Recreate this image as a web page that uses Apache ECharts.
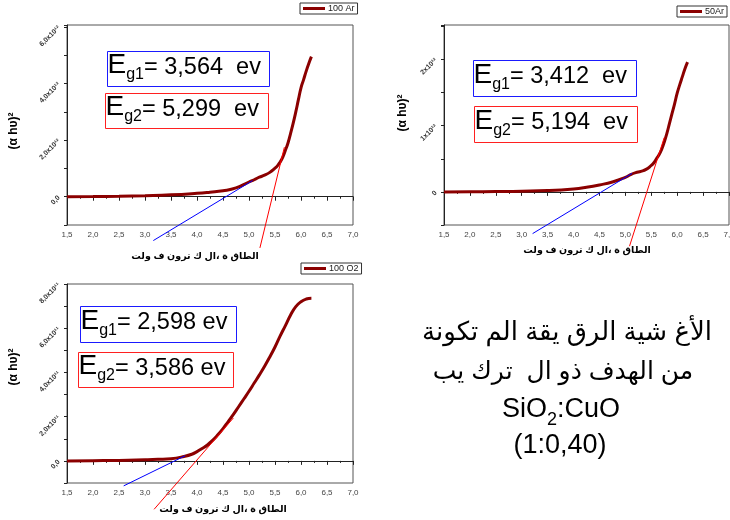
<!DOCTYPE html>
<html>
<head>
<meta charset="utf-8">
<script src="https://cdn.jsdelivr.net/npm/echarts@6/dist/echarts.min.js"></script>
<style>
html, body { margin: 0; padding: 0; background: #fff; }
#chart { width: 730px; height: 520px; }
</style>
</head>
<body>
<div id="chart"></div>
<script>
// Tauc plots: photon energy (eV) against (αhν)²

// Film sputtered in 100 % Ar  — (αhν)² in units of 10¹²
const energyAr100 = [1.5, 2.0, 2.5, 3.0, 3.5, 4.0, 4.25, 4.5, 4.75, 5.0, 5.1, 5.2, 5.3, 5.4, 5.5, 5.55, 5.6, 5.65, 5.7, 5.75, 5.8, 5.85, 5.9, 5.95, 6.0, 6.05, 6.1, 6.15, 6.2];
const taucAr100   = [0, 0.005, 0.015, 0.035, 0.065, 0.12, 0.16, 0.21, 0.31, 0.52, 0.6, 0.69, 0.76, 0.86, 1.01, 1.1, 1.23, 1.4, 1.64, 1.9, 2.24, 2.6, 3.0, 3.43, 3.85, 4.14, 4.44, 4.71, 4.95];
const fitAr100Eg1 = [[3.16, -1.55], [5.07, 0.57]];
const fitAr100Eg2 = [[5.21, -1.81], [5.68, 1.75]];

// Film sputtered in 50 % Ar — (αhν)² in units of 10¹²
const energyAr50 = [1.5, 2.0, 2.5, 3.0, 3.5, 4.0, 4.25, 4.5, 4.75, 5.0, 5.1, 5.2, 5.3, 5.4, 5.5, 5.55, 5.6, 5.65, 5.7, 5.75, 5.8, 5.85, 5.9, 5.95, 6.0, 6.05, 6.1, 6.15, 6.2];
const taucAr50   = [0, 0.002, 0.005, 0.01, 0.02, 0.045, 0.07, 0.105, 0.15, 0.22, 0.26, 0.29, 0.31, 0.34, 0.4, 0.44, 0.5, 0.56, 0.64, 0.75, 0.88, 1.03, 1.18, 1.33, 1.49, 1.62, 1.74, 1.86, 1.96];
const fitAr50Eg1 = [[3.21, -0.63], [5.13, 0.28]];
const fitAr50Eg2 = [[5.08, -0.82], [5.75, 0.82]];

// Film sputtered in 100 % O2 — (αhν)² in units of 10¹¹
const energyO2 = [1.5, 2.0, 2.5, 3.0, 3.25, 3.5, 3.75, 3.9, 4.0, 4.1, 4.2, 4.3, 4.4, 4.5, 4.6, 4.7, 4.8, 4.9, 5.0, 5.1, 5.2, 5.3, 5.4, 5.5, 5.6, 5.7, 5.8, 5.9, 6.0, 6.1, 6.2];
const taucO2   = [0, 0.01, 0.02, 0.05, 0.07, 0.1, 0.2, 0.3, 0.42, 0.56, 0.72, 0.93, 1.18, 1.46, 1.78, 2.1, 2.45, 2.8, 3.15, 3.52, 3.89, 4.28, 4.7, 5.15, 5.65, 6.12, 6.6, 6.98, 7.2, 7.32, 7.36];
const fitO2Eg1 = [[2.59, -1.13], [3.77, 0.23]];
const fitO2Eg2 = [[3.175, -2.19], [4.7, 1.94]];

// Tick labels
const xTickValues = [1.5, 2.0, 2.5, 3.0, 3.5, 4.0, 4.5, 5.0, 5.5, 6.0, 6.5, 7.0];
const xTickLabels = ['1,5', '2,0', '2,5', '3,0', '3,5', '4,0', '4,5', '5,0', '5,5', '6,0', '6,5', '7,0'];
const yTickValuesAr100 = [0, 2, 4, 6];
const yTickLabelsAr100 = ['0,0', '2,0x10¹²', '4,0x10¹²', '6,0x10¹²'];
const yTickValuesAr50 = [0, 1, 2];
const yTickLabelsAr50 = ['0', '1x10¹²', '2x10¹²'];
const yTickValuesO2 = [0, 2, 4, 6, 8];
const yTickLabelsO2 = ['0,0', '2,0x10¹¹', '4,0x10¹¹', '6,0x10¹¹', '8,0x10¹¹'];

// Band-gap annotations
const gapTexts = [
  ['= 3,564  ev', '= 5,299  ev'],
  ['= 3,412  ev', '= 5,194  ev'],
  ['= 2,598 ev', '= 3,586 ev']
];
const seriesNames = ['100 Ar', '50Ar', '100 O2'];

const xLabel = 'الطاق ة ،ال ك ترون ف ولت';
const yLabel = '(α hυ)²';
const noteLines = ['الأغ شية الرق يقة الم تكونة', 'من الهدف ذو ال  ترك يب'];

const FONT = '"Liberation Sans", Arial, "DejaVu Sans", sans-serif';
const CURVE = '#8b0000';

// text width helper for laying out sub-scripted labels
const measureCtx = document.createElement('canvas').getContext('2d');
function textWidth(str, size) {
  measureCtx.font = size + 'px ' + FONT;
  return measureCtx.measureText(str).width;
}

function lookup(values, labels, v) {
  for (let i = 0; i < values.length; i++) {
    if (Math.abs(values[i] - v) < 1e-6) return labels[i];
  }
  return '';
}

const grids = [
  { left: 67, top: 25, width: 286, height: 200 },
  { left: 444, top: 25, width: 285, height: 200 },
  { left: 67, top: 284, width: 286, height: 199 }
];
const yRanges = [
  { min: -1, max: 6.07, interval: 1, values: yTickValuesAr100, labels: yTickLabelsAr100 },
  { min: -0.5, max: 2.52, interval: 0.5, values: yTickValuesAr50, labels: yTickLabelsAr50 },
  { min: -1, max: 8, interval: 1, values: yTickValuesO2, labels: yTickLabelsO2 }
];

const xAxes = grids.map((g, i) => ({
  type: 'value', gridIndex: i, min: 1.5, max: 7.0, interval: 0.5,
  axisLine: { lineStyle: { color: '#222', width: 1 } },
  axisTick: { show: true, length: 4, lineStyle: { color: '#222' } },
  minorTick: { show: true, splitNumber: 2, length: 2, lineStyle: { color: '#222' } },
  splitLine: { show: false },
  axisLabel: {
    margin: 6, fontSize: 8, color: '#444', fontFamily: FONT,
    formatter: v => lookup(xTickValues, xTickLabels, v)
  }
}));

const yAxes = yRanges.map((r, i) => ({
  type: 'value', gridIndex: i, min: r.min, max: r.max, interval: r.interval,
  axisLine: { show: true, lineStyle: { color: '#222', width: 1 } },
  axisTick: { show: true, length: 3, lineStyle: { color: '#222' } },
  splitLine: { show: false },
  axisLabel: {
    rotate: 45, margin: 8, fontSize: 7, fontWeight: 'bold', color: '#333', fontFamily: FONT,
    formatter: v => lookup(r.values, r.labels, v)
  }
}));

function curve(name, xs, ys, idx) {
  return {
    name: name, type: 'line', xAxisIndex: idx, yAxisIndex: idx,
    data: xs.map((x, k) => [x, ys[k]]),
    smooth: true, symbol: 'none',
    lineStyle: { color: CURVE, width: 3 }, itemStyle: { color: CURVE },
    z: 2
  };
}
function fit(name, pts, idx, color) {
  return {
    name: name, type: 'line', xAxisIndex: idx, yAxisIndex: idx,
    data: pts, symbol: 'none', clip: false,
    lineStyle: { color: color, width: 1 }, z: 3
  };
}

const series = [
  curve(seriesNames[0], energyAr100, taucAr100, 0),
  fit('fit1a', fitAr100Eg1, 0, '#0000ff'),
  fit('fit1b', fitAr100Eg2, 0, '#ff0000'),
  curve(seriesNames[1], energyAr50, taucAr50, 1),
  fit('fit2a', fitAr50Eg1, 1, '#0000ff'),
  fit('fit2b', fitAr50Eg2, 1, '#ff0000'),
  curve(seriesNames[2], energyO2, taucO2, 2),
  fit('fit3a', fitO2Eg1, 2, '#0000ff'),
  fit('fit3b', fitO2Eg2, 2, '#ff0000')
];

const legendPos = [{ left: 300, top: 3 }, { left: 677, top: 6 }, { left: 301, top: 263 }];
const legends = seriesNames.map((n, i) => ({
  data: [n], left: legendPos[i].left, top: legendPos[i].top,
  orient: 'horizontal', icon: 'rect', itemWidth: 22, itemHeight: 3, itemGap: 4,
  padding: [1, 3, 1, 3], borderColor: '#333', borderWidth: 1, borderRadius: 0,
  backgroundColor: '#fff',
  textStyle: { fontSize: 9, color: '#222', fontFamily: FONT, padding: [0, 0, 0, -2] }
}));

const graphic = [];

// a run of text pieces sharing one baseline; each piece: [text, fontSize, baselineShift]
function textRun(x0, baseline, pieces, z) {
  let x = x0;
  pieces.forEach(p => {
    graphic.push({
      type: 'text', x: x, y: baseline + p[2] - 0.35 * p[1], z: z,
      style: { text: p[0], fontSize: p[1], fontFamily: FONT, fill: '#000', align: 'left', verticalAlign: 'middle' }
    });
    x += textWidth(p[0], p[1]);
  });
  return x - x0;
}

// Boxed band-gap labels: [x, y, w, h] for each box
const boxes = [
  [[107, 51, 162, 35], [105, 93, 163, 35]],
  [[473, 60, 163, 36], [474, 106, 163, 36]],
  [[80, 306, 156, 36], [78, 352, 155, 35]]
];
boxes.forEach((pair, p) => {
  pair.forEach((b, k) => {
    graphic.push({
      type: 'rect', shape: { x: b[0] + 0.5, y: b[1] + 0.5, width: b[2], height: b[3] },
      style: { fill: '#fff', stroke: k === 0 ? '#1a1aff' : '#ff2020', lineWidth: 1 }, z: 10
    });
    const cy = b[1] + b[3] / 2;
    textRun(b[0] + 0.5, cy + 7, [['E', 28, 0], ['g' + (k + 1), 16, 5], [gapTexts[p][k], 23.5, 0]], 11);
  });
});

// Axis titles
const yTitlePos = [[14, 131], [403, 113], [14, 367]];
yTitlePos.forEach(pt => graphic.push({
  type: 'text', x: pt[0], y: pt[1], rotation: Math.PI / 2, z: 5,
  style: { text: yLabel, fontSize: 12, fontWeight: 'bold', fontFamily: FONT, fill: '#000', align: 'center', verticalAlign: 'middle' }
}));
const xTitlePos = [[195, 256], [587, 250], [223, 509]];
xTitlePos.forEach(pt => graphic.push({
  type: 'text', x: pt[0], y: pt[1], z: 5,
  style: { text: xLabel, fontSize: 9.5, fontWeight: 'bold', fontFamily: FONT, fill: '#000', align: 'center', verticalAlign: 'middle' }
}));

// Sample description
graphic.push({
  type: 'text', x: 567, y: 333, z: 5,
  style: { text: noteLines[0], fontSize: 26, fontFamily: FONT, fill: '#000', align: 'center', verticalAlign: 'middle' }
});
graphic.push({
  type: 'text', x: 563, y: 372, z: 5,
  style: { text: noteLines[1], fontSize: 25, fontFamily: FONT, fill: '#000', align: 'center', verticalAlign: 'middle' }
});
const formulaPieces = [['SiO', 27, 0], ['2', 18, 7], [':CuO', 27, 0]];
const formulaW = formulaPieces.reduce((s, p) => s + textWidth(p[0], p[1]), 0);
textRun(561 - formulaW / 2, 419, formulaPieces, 5);
graphic.push({
  type: 'text', x: 560, y: 455 - 0.35 * 27, z: 5,
  style: { text: '(1:0,40)', fontSize: 27, fontFamily: FONT, fill: '#000', align: 'center', verticalAlign: 'middle' }
});

const chart = echarts.init(document.getElementById('chart'), null, { renderer: 'canvas' });
chart.setOption({
  backgroundColor: '#fff',
  animation: false,
  grid: grids.map(g => Object.assign({
    show: true, borderColor: '#555', borderWidth: 1, backgroundColor: 'transparent',
    containLabel: false, outerBoundsMode: 'none'
  }, g)),
  xAxis: xAxes,
  yAxis: yAxes,
  legend: legends,
  series: series,
  graphic: graphic
});
</script>
</body>
</html>
